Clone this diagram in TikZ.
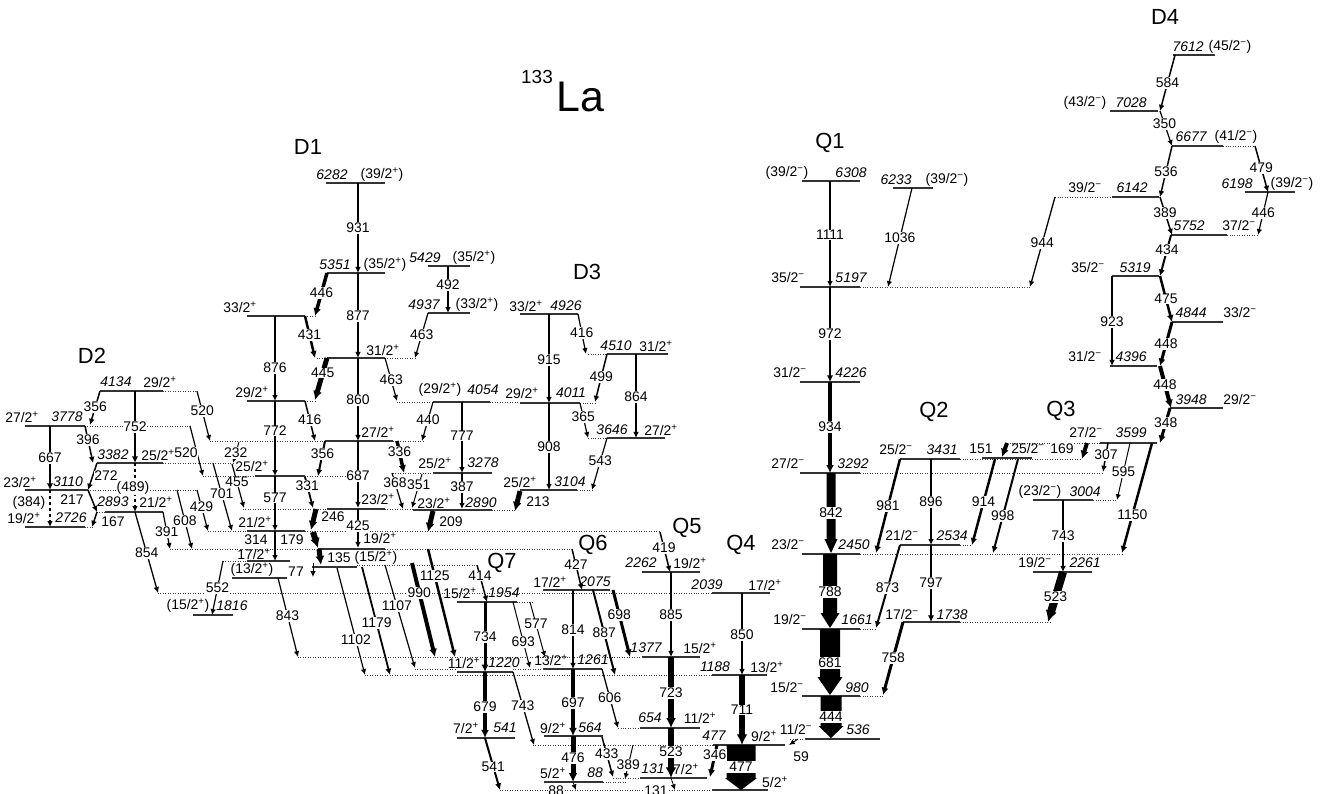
\documentclass[tikz,border=0pt]{standalone}
\usepackage{fontspec}
\setmainfont{Liberation Sans}
\usetikzlibrary{arrows.meta}
\pgfdeclarelayer{bg}
\pgfsetlayers{bg,main}
\newcommand\jP{\textsuperscript{+}}
\newcommand\jM{\textsuperscript{−}}
\tikzset{
 lev/.style={line width=1.3pt, black!80},
 dot/.style={line width=0.9pt, black!75, dash pattern=on 0.9pt off 1.6pt},
 gam/.style={-{Latex[length=5pt 0.8, width=4.5pt 0.9]}, black},
 glab/.style={fill=white, inner sep=0.6pt, font=\fontsize{14}{15}\selectfont},
 tl/.style={inner sep=0pt, font=\fontsize{14}{15}\selectfont},
 el/.style={inner sep=0pt, font=\fontsize{14}{15}\selectfont\itshape},
 bl/.style={inner sep=0pt, font=\fontsize{22}{22}\selectfont},
}
\newcommand\Lv[3]{\begin{pgfonlayer}{bg}\draw[lev] (#1,#3) -- (#2,#3);\end{pgfonlayer}}
\newcommand\Dt[3]{\begin{pgfonlayer}{bg}\draw[dot] (#1,#3) -- (#2,#3);\end{pgfonlayer}}
\newcommand\Tl[3]{\node[tl] at (#1,#2) {#3};}
\newcommand\El[3]{\node[el] at (#1,#2) {#3};}
\newcommand\Gm[7]{\pgfmathsetmacro\gp{((#7)-(#3))/((#5)-(#3))}\draw[gam,line width=#1] (#2,#3) -- (#4,#5) node[glab,pos=\gp]{#6};}
\newcommand\Gmx[8]{\draw[gam,line width=#1] (#2,#3) -- (#4,#5); \node[glab] at (#7,#8) {#6};}
\newcommand\Fat[8]{\fill[black] (#1-#4/2,#2) -- (#1+#4/2,#2) -- (#1+#4/2,#3-#6) -- (#1+#5/2,#3-#6) -- (#1,#3) -- (#1-#5/2,#3-#6) -- (#1-#4/2,#3-#6) -- cycle;
 \node[glab, minimum width=#4+6, minimum height=13] at (#1,#8) {#7};}
\begin{document}
\begin{tikzpicture}[x=1bp,y=-1bp]
\begin{pgfonlayer}{bg}\fill[white] (0,0) rectangle (1338,793);\end{pgfonlayer}
\useasboundingbox (0,0) rectangle (1338,793);

% title and band names
\node[inner sep=0pt,font=\fontsize{19}{19}\selectfont] at (537,77) {133};
\node[inner sep=0pt,font=\fontsize{43}{43}\selectfont] at (580,97) {La};
\node[bl] at (308,147) {D1};
\node[bl] at (92,356) {D2};
\node[bl] at (587,272) {D3};
\node[bl] at (1165,17) {D4};
\node[bl] at (830,143) {Q1};
\node[bl] at (934,412) {Q2};
\node[bl] at (1061,411) {Q3};
\node[bl] at (741,545) {Q4};
\node[bl] at (687,528) {Q5};
\node[bl] at (593,545) {Q6};
\node[bl] at (502,563) {Q7};

% ===== D4 =====
\Lv{1173}{1215}{55}
\El{1188}{47}{7612} \Tl{1230}{47}{(45/2\jM)}
\Gm{1.5}{1175}{55}{1160}{111}{584}{83}
\Lv{1110}{1158}{111}
\Tl{1085}{103}{(43/2\jM)} \El{1131}{103}{7028}
\Gm{1.2}{1160}{111}{1172}{146}{350}{124}
\Lv{1172}{1223}{146} \Dt{1223}{1255}{146}
\El{1191}{137}{6677} \Tl{1236}{137}{(41/2\jM)}
\Gm{1.5}{1255}{146}{1268}{192}{479}{168}
\Lv{1245}{1295}{192}
\El{1237}{184}{6198} \Tl{1292}{184}{(39/2\jM)}
\Gm{1.2}{1268}{192}{1258}{235}{446}{213}
\Gm{1.5}{1172}{146}{1160}{197}{536}{172}
\Dt{1055}{1112}{197} \Lv{1112}{1159}{197}
\Tl{1085}{188}{39/2\jM} \El{1132}{188}{6142}
\Gm{1.3}{1055}{197}{1030}{287}{944}{243}
\Gm{1.5}{1160}{197}{1172}{235}{389}{213}
\Lv{1171}{1227}{235} \Dt{1227}{1258}{235}
\El{1189}{226}{5752} \Tl{1239}{226}{37/2\jM}
\Gm{2}{1171}{235}{1160}{276}{434}{250}
\Lv{1112}{1159}{276}
\Tl{1088}{268}{35/2\jM} \El{1135}{268}{5319}
\Gm{1.5}{1112}{276}{1112}{366}{923}{322}
\Gm{2.5}{1160}{276}{1172}{322}{475}{299}
\Lv{1172}{1223}{322}
\El{1191}{313}{4844} \Tl{1240}{313}{33/2\jM}
\Gm{3}{1172}{322}{1160}{366}{448}{344}
\Lv{1110}{1157}{366}
\Tl{1085}{357}{31/2\jM} \El{1131}{357}{4396}
\Gm{4}{1160}{366}{1171}{408}{448}{385}
\Lv{1170}{1223}{408}
\El{1191}{400}{3948} \Tl{1240}{400}{29/2\jM}
\Gm{3}{1170}{408}{1160}{443}{348}{423}

% ===== Q3 =====
\Dt{1007}{1100}{443} \Lv{1100}{1157}{443}
\Tl{1086}{433}{27/2\jM} \El{1131}{433}{3599}
\Gmx{4}{1087}{443}{1082}{459}{169}{1062}{449}
\Gmx{4}{1007}{443}{1002}{457}{151}{981}{449}
\Gm{1.5}{1108}{443}{1103}{472}{307}{455}
\Gm{1}{1130}{443}{1117}{500}{595}{472}
\Gm{2.5}{1152}{443}{1122}{553}{1150}{515}
\Lv{1033}{1093}{500} \Dt{1093}{1117}{500}
\Tl{1040}{492}{(23/2\jM)} \El{1085}{492}{3004}
\Gm{1.5}{1063}{500}{1063}{572}{743}{536}
\Lv{1033}{1092}{572}
\Tl{1035}{563}{19/2\jM} \El{1085}{563}{2261}
\Gm{8}{1063}{572}{1048}{622}{523}{597}

% ===== Q2 =====
\Lv{900}{960}{459} \Dt{960}{1082}{459} \Lv{982}{1032}{458}
\Tl{896}{450}{25/2\jM} \El{942}{450}{3431}
\Tl{1028}{449}{25/2\jM}
\Gm{2.5}{900}{459}{876}{553}{981}{506}
\Gm{1.2}{931}{459}{931}{545}{896}{502}
\Gm{2.5}{995}{459}{972}{545}{914}{502}
\Gm{2}{1018}{459}{993}{553}{998}{516}
\Lv{900}{960}{545} \Dt{960}{972}{545}
\Tl{902}{536}{21/2\jM} \El{952}{536}{2534}
\Gm{2}{900}{545}{876}{628}{873}{588}
\Gm{2}{931}{545}{931}{622}{797}{583}
\Lv{903}{960}{622} \Dt{960}{1050}{622}
\Tl{902}{615}{17/2\jM} \El{952}{615}{1738}
\Gm{3}{903}{622}{883}{695}{758}{658}

% ===== Q1 =====
\Lv{802}{860}{181}
\Tl{787}{173}{(39/2\jM)} \El{851}{173}{6308}
\Gm{1.2}{830}{181}{830}{287}{1111}{235}
\Lv{893}{933}{188}
\El{896}{180}{6233} \Tl{947}{180}{(39/2\jM)}
\Gm{1.2}{912}{188}{888}{287}{1036}{238}
\Lv{800}{860}{287} \Dt{860}{1030}{287}
\Tl{788}{278}{35/2\jM} \El{851}{278}{5197}
\Gm{2}{830}{287}{830}{382}{972}{334}
\Lv{800}{860}{382}
\Tl{790}{373}{31/2\jM} \El{851}{373}{4226}
\Gm{3.5}{830}{382}{830}{473}{934}{427}
\Lv{800}{860}{473} \Dt{860}{1103}{473}
\Tl{788}{464}{27/2\jM} \El{853}{464}{3292}
\Fat{831}{473}{553}{9}{13}{14}{842}{513}
\Lv{802}{860}{554} \Dt{860}{1123}{554}
\Tl{788}{545}{23/2\jM} \El{854}{545}{2450}
\Fat{830}{554}{628}{14}{19}{15}{788}{592}
\Lv{802}{860}{629} \Dt{860}{876}{629}
\Tl{790}{620}{19/2\jM} \El{857}{620}{1661}
\Fat{830}{629}{695}{20}{25}{18}{681}{663}
\Lv{802}{860}{696} \Dt{860}{883}{696}
\Tl{787}{688}{15/2\jM} \El{857}{688}{980}
\Fat{831}{696}{738}{21}{25}{12}{444}{717}
\Lv{805}{880}{739} \Dt{790}{805}{739}
\Tl{796}{730}{11/2\jM} \El{858}{730}{536}
\Gmx{1}{798}{739}{789}{745}{59}{801}{757}

% ===== Q4 =====
\Lv{712}{770}{593}
\El{707}{585}{2039} \Tl{765}{585}{17/2\jP}
\Gm{1.5}{742}{593}{742}{675}{850}{635}
\Lv{712}{767}{675}
\El{715}{667}{1188} \Tl{767}{667}{13/2\jP}
\Gm{7}{742}{675}{742}{745}{711}{710}
\Lv{713}{785}{745}
\El{714}{736}{477} \Tl{764}{736}{9/2\jP}
\Fat{741}{745}{790}{29}{32}{12}{477}{767}
\Lv{712}{768}{790}
\Tl{775}{782}{5/2\jP}

% ===== Q5 =====
\Lv{642}{700}{572}
\El{641}{563}{2262} \Tl{690}{563}{19/2\jP}
\Gm{1.5}{660}{532}{670}{572}{419}{548}
\Gm{1.5}{671}{572}{671}{657}{885}{615}
\Lv{642}{700}{657}
\El{646}{648}{1377} \Tl{700}{648}{15/2\jP}
\Gm{6}{671}{657}{671}{728}{723}{693}
\Lv{640}{700}{728} \Dt{618}{640}{728}
\El{650}{718}{654} \Tl{700}{718}{11/2\jP}
\Gm{7}{671}{728}{671}{778}{523}{752}
\Lv{640}{707}{778} \Dt{613}{640}{778}
\El{653}{769}{131} \Tl{686}{769}{7/2\jP}
\Gm{3}{717}{745}{710}{777}{346}{755}
\draw[gam,line width=0.8] (671,778) -- (675,790);
\node[glab] at (656,791) {131};

% ===== Q6 =====
\Lv{543}{610}{590}
\Tl{550}{582}{17/2\jP} \El{595}{582}{2075}
\Gm{1.5}{572}{549}{582}{590}{427}{565}
\Gm{1.5}{573}{590}{573}{669}{814}{630}
\Gm{2}{593}{590}{615}{675}{887}{633}
\Gm{3}{613}{590}{630}{657}{698}{615}
\Lv{543}{602}{669}
\Tl{551}{660}{13/2\jP} \El{593}{660}{1261}
\Gm{4}{573}{669}{573}{736}{697}{703}
\Gm{1.3}{602}{669}{618}{728}{606}{698}
\Lv{544}{603}{736}
\Tl{553}{728}{9/2\jP} \El{590}{728}{564}
\Gm{5}{573}{736}{573}{782}{476}{758}
\Gm{1.5}{602}{737}{613}{777}{433}{754}
\Gm{1}{633}{745}{625}{779}{389}{765}
\Lv{544}{603}{782} \Dt{603}{627}{782}
\Tl{553}{773}{5/2\jP} \El{595}{773}{88}
\draw[gam,line width=0.8] (573,782) -- (576,790);
\node[glab] at (556,791) {88};

% ===== Q7 =====
\Gm{1.5}{477}{565}{487}{602}{414}{576}
\Lv{457}{517}{602} \Dt{517}{533}{602}
\Tl{460}{593}{15/2\jP} \El{504}{593}{1954}
\Gm{3}{485}{602}{485}{672}{734}{637}
\Gm{1}{513}{602}{530}{668}{693}{642}
\Gm{1}{530}{602}{545}{657}{577}{624}
\Lv{457}{513}{672}
\Tl{464}{663}{11/2\jP} \El{504}{663}{1220}
\Gm{4}{485}{672}{485}{738}{679}{707}
\Gm{1.3}{513}{672}{534}{745}{743}{706}
\Lv{457}{515}{738}
\Tl{466}{728}{7/2\jP} \El{505}{728}{541}
\Gm{2}{485}{738}{500}{790}{541}{767}
\Dt{500}{712}{790}

% long dotted extensions
\Dt{298}{642}{657}
\Dt{415}{457}{669} \Dt{513}{543}{669}
\Dt{365}{712}{675}
\Dt{158}{712}{593}
\Dt{533}{713}{745}

% ===== D1 =====
\Lv{326}{385}{183}
\El{332}{175}{6282} \Tl{382}{175}{(39/2\jP)}
\Gm{1.5}{358}{183}{358}{273}{931}{228}
\Lv{327}{385}{273}
\El{335}{265}{5351} \Tl{385}{265}{(35/2\jP)}
\Gm{1.5}{358}{273}{358}{358}{877}{316}
\Lv{428}{470}{266}
\El{425}{258}{5429} \Tl{474}{258}{(35/2\jP)}
\Gm{1.2}{448}{266}{448}{313}{492}{285}
\Lv{428}{470}{313}
\El{424}{305}{4937} \Tl{477}{305}{(33/2\jP)}
\Gm{1.2}{428}{313}{415}{358}{463}{335}
\Gm{3.5}{327}{273}{315}{316}{446}{293}
\Lv{247}{305}{316} \Dt{305}{315}{316}
\Tl{240}{307}{33/2\jP}
\Gm{2.5}{305}{316}{315}{358}{431}{335}
\Gm{1.2}{275}{316}{275}{401}{876}{368}
\Dt{317}{327}{358} \Lv{327}{385}{358} \Dt{385}{417}{358}
\Tl{383}{350}{31/2\jP}
\Gm{5}{327}{358}{315}{400}{445}{373}
\Gm{1.2}{385}{358}{397}{401}{463}{380}
\Gm{1.5}{358}{358}{358}{441}{860}{400}
\Lv{247}{305}{401} \Dt{305}{315}{401}
\Tl{252}{392}{29/2\jP}
\Gm{1.5}{305}{401}{315}{441}{416}{420}
\Gm{1.2}{275}{401}{275}{476}{772}{431}
\Dt{397}{433}{402} \Lv{433}{490}{402} \Dt{490}{522}{402}
\Tl{440}{390}{(29/2\jP)} \El{483}{390}{4054}
\Gm{1.2}{433}{402}{422}{441}{440}{420}
\Gm{1.2}{462}{402}{462}{473}{777}{436}
\Dt{210}{325}{441} \Lv{325}{393}{441} \Dt{393}{423}{441}
\Tl{378}{432}{27/2\jP}
\Gm{2}{325}{441}{318}{476}{356}{454}
\Gm{3.5}{397}{441}{404}{473}{336}{452}
\Gm{1.5}{358}{441}{358}{508}{687}{476}
\Dt{393}{433}{473} \Lv{433}{492}{473}
\Tl{435}{463}{25/2\jP} \El{483}{463}{3278}
\Dt{203}{255}{476} \Lv{255}{305}{476} \Dt{305}{350}{476}
\Tl{252}{466}{25/2\jP}
\Gm{1.8}{305}{477}{313}{508}{331}{486}
\Gm{1.2}{275}{476}{275}{531}{577}{498}
\Gm{1}{422}{474}{412}{508}{351}{485}
\Gm{1.2}{392}{473}{403}{509}{368}{483}
\Gm{1.2}{462}{473}{462}{509}{387}{487}
\Dt{243}{327}{509} \Lv{327}{385}{509} \Dt{385}{413}{509}
\Tl{378}{499}{23/2\jP}
\Lv{413}{492}{510} \Dt{492}{515}{510}
\Tl{434}{503}{23/2\jP} \El{481}{503}{2890}
\Gmx{5}{433}{511}{428}{532}{209}{451}{522}
\Gmx{5}{316}{509}{311}{530}{246}{333}{517}
\Gm{1.5}{358}{509}{358}{548}{425}{526}

% 2681 - 2220 cluster
\Dt{208}{247}{531} \Lv{247}{305}{531} \Dt{305}{660}{531}
\Tl{255}{522}{21/2\jP}
\Dt{170}{318}{549} \Lv{318}{385}{549} \Dt{385}{572}{549}
\Tl{380}{538}{19/2\jP}
\Dt{223}{247}{561} \Lv{247}{290}{561}
\Tl{254}{554}{17/2\jP}
\Lv{232}{287}{578}
\Tl{252}{570}{(13/2\jP)}
\Lv{312}{357}{567} \Dt{357}{477}{565}
\Tl{376}{558}{(15/2\jP)}
\draw[gam,line width=6] (313,532) -- (318,548);
\draw[gam,line width=5] (319,549) -- (321,565);
\draw[gam,line width=1.2] (275,531) -- (275,561);
\draw[gam,line width=1] (313,563) -- (313,577);
\node[tl] at (256,540) {314};
\node[glab] at (292,540) {179};
\node[glab] at (339,558) {135};
\node[glab] at (296,572) {77};
\Gm{1.2}{278}{578}{298}{657}{843}{616}
\Gm{1.2}{337}{568}{365}{675}{1102}{640}
\Gm{1.8}{362}{567}{390}{675}{1179}{623}
\Gm{1.2}{385}{565}{415}{668}{1107}{606}
\Gm{4}{412}{563}{435}{657}{990}{593}
\Gm{2.5}{428}{549}{455}{657}{1125}{576}

% ===== D3 =====
\Lv{520}{578}{314}
\Tl{526}{306}{33/2\jP} \El{566}{306}{4926}
\Gm{1.3}{549}{314}{549}{403}{915}{360}
\Gm{1.2}{578}{314}{586}{354}{416}{333}
\Dt{588}{607}{354} \Lv{607}{668}{354}
\El{616}{346}{4510} \Tl{656}{346}{31/2\jP}
\Gm{1.5}{607}{354}{595}{402}{499}{377}
\Gm{1.3}{636}{354}{636}{438}{864}{397}
\Lv{520}{580}{403} \Dt{580}{595}{403}
\Tl{522}{393}{29/2\jP} \El{571}{393}{4011}
\Gm{1.2}{580}{403}{588}{438}{365}{417}
\Dt{588}{607}{438} \Lv{607}{665}{438}
\El{612}{430}{3646} \Tl{661}{430}{27/2\jP}
\Gm{1.3}{549}{403}{549}{490}{908}{447}
\Gm{1.2}{607}{438}{592}{490}{543}{461}
\Lv{520}{577}{490} \Dt{577}{592}{490}
\Tl{520}{482}{25/2\jP} \El{570}{482}{3104}
\Gmx{5}{520}{491}{515}{511}{213}{538}{502}

% ===== D2 =====
\Lv{100}{163}{391} \Dt{163}{197}{391}
\El{116}{382}{4134} \Tl{160}{382}{29/2\jP}
\Gm{1.5}{100}{391}{90}{425}{356}{407}
\Gm{2}{135}{391}{135}{463}{752}{427}
\Lv{25}{85}{426} \Dt{85}{190}{426}
\Tl{22}{417}{27/2\jP} \El{67}{417}{3778}
\Gm{1.2}{197}{391}{210}{441}{520}{411}
\Gm{2}{50}{426}{50}{490}{667}{458}
\Gm{1.5}{85}{426}{93}{463}{396}{440}
\Lv{97}{163}{463} \Dt{163}{233}{463}
\El{113}{455}{3382} \Tl{158}{455}{25/2\jP}
\Gmx{1.2}{190}{426}{203}{476}{520}{186}{453}
\Gmx{1.5}{97}{463}{88}{490}{272}{106}{476}
\Lv{25}{88}{490} \Dt{88}{197}{490}
\Tl{20}{482}{23/2\jP} \El{68}{482}{3110}
\draw[gam,dashed,line width=1.2] (135,463) -- (135,512);
\node[glab] at (133,488) {(489)};
\Gmx{1.5}{88}{490}{97}{512}{217}{72}{500}
\Dt{97}{105}{512} \Lv{105}{163}{512}
\El{113}{502}{2893} \Tl{156}{502}{21/2\jP}
\Gmx{1.5}{97}{512}{92}{527}{167}{113}{522}
\draw[gam,dashed,line width=1.2] (50,490) -- (50,527);
\node[glab] at (29,503) {(384)};
\Lv{25}{85}{527} \Dt{85}{93}{527}
\Tl{24}{518}{19/2\jP} \El{71}{518}{2726}
\Gm{1.3}{135}{512}{158}{593}{854}{553}
\Gm{1.2}{163}{512}{170}{549}{391}{532}
\Gm{1.2}{177}{490}{192}{549}{608}{521}
\Gm{1.2}{197}{490}{208}{531}{429}{507}
\Gm{1.2}{213}{463}{232}{531}{701}{494}
\Gm{1.2}{232}{464}{244}{508}{455}{482}
\Gm{1}{239}{442}{233}{463}{232}{453}
\Lv{193}{233}{615}
\Tl{188}{606}{(15/2\jP)} \El{232}{606}{1816}
\Gm{1.2}{223}{561}{212}{615}{552}{588}
\end{tikzpicture}
\end{document}
